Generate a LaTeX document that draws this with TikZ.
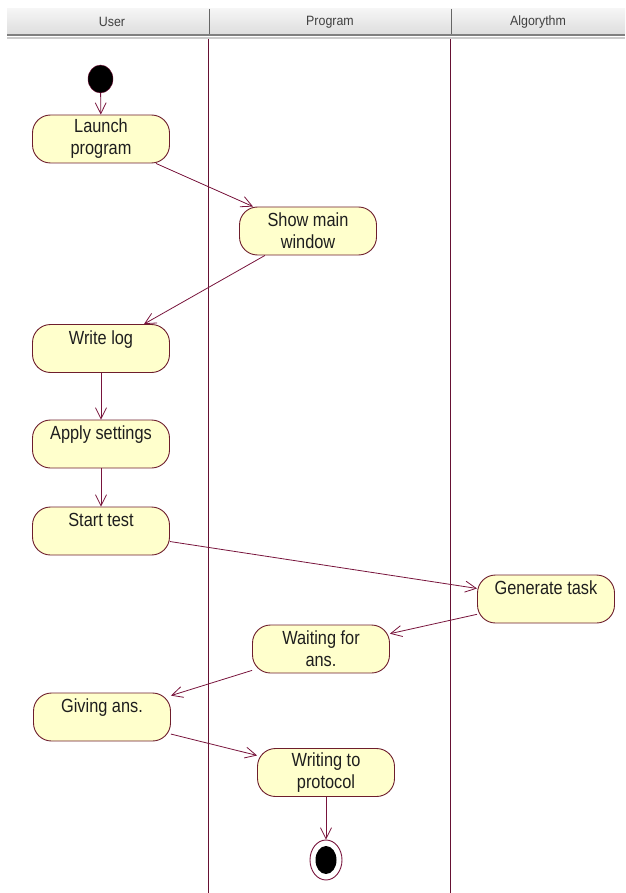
\documentclass[tikz,border=0pt]{standalone}
\usepackage{fontspec}
\usetikzlibrary{arrows.meta,shapes.geometric}
\newfontfamily\nodefont{Liberation Sans}[FakeStretch=0.86]
\newfontfamily\hdrfont{Liberation Sans}[FakeStretch=0.92]
\definecolor{umlline}{RGB}{120,20,60}
\definecolor{umlborder}{RGB}{110,30,45}
\definecolor{umlfill}{RGB}{255,255,204}
\definecolor{umltext}{RGB}{30,30,30}
\definecolor{hdrtop}{RGB}{245,245,245}
\definecolor{hdrbot}{RGB}{222,222,222}
\begin{document}
\begin{tikzpicture}[x=1pt,y=-1pt,
  activity/.style={draw=umlborder, fill=umlfill, line width=0.9pt, rounded corners=18pt,
    minimum width=137pt, minimum height=48pt, inner sep=0pt, align=center,
    font=\nodefont\fontsize{19}{22}\selectfont, text=umltext},
  flow/.style={draw=umlline, line width=0.8pt, -{Straight Barb[length=11pt,width=11pt]}},
  lane/.style={draw=umlline!85!black, line width=0.8pt},
  hdr/.style={font=\hdrfont\fontsize{13.5}{15}\selectfont, text=black!75}]
\useasboundingbox (0,0) rectangle (625,893);
% header
\shade[top color=hdrtop, bottom color=hdrbot] (7,9) rectangle (625,34);
\draw[black!50, line width=2pt] (7,35.5) -- (625,35.5);
\draw[black!20, line width=2pt] (7,38) -- (625,38);
\draw[black!60, line width=0.8pt] (209,9) -- (209,34);
\draw[black!60, line width=0.8pt] (451,9) -- (451,34);
\node[hdr] (huser) at (112,22) {User};
\node[hdr] (hprog) at (330,22) {Program};
\node[hdr] (halgo) at (538,22) {Algorythm};
% lanes
\draw[lane] (208,39) -- (208,893);
\draw[lane] (450,39) -- (450,893);
% nodes
\node[ellipse, fill=black, draw=umlline, minimum width=25pt, minimum height=28pt, inner sep=0pt] (init) at (100.5,79) {};
\node[activity] (launch) at (101,139) {Launch\\program};
\node[activity] (show) at (308,231) {Show main\\window};
\node[activity] (wlog) at (101,348.5) {Write log\\~};
\node[activity] (apply) at (101,444) {Apply settings\\~};
\node[activity] (start) at (101,531) {Start test\\~};
\node[activity] (gen) at (546,599) {Generate task\\~};
\node[activity] (wait) at (321,649) {Waiting for\\ans.};
\node[activity] (give) at (102,717) {Giving ans.\\~};
\node[activity] (proto) at (326,772.5) {Writing to\\protocol};
\node[ellipse, draw=umlline, line width=0.9pt, minimum width=32pt, minimum height=40pt, inner sep=0pt] (final) at (326,860) {};
\node[ellipse, fill=black, minimum width=21pt, minimum height=28pt, inner sep=0pt] (finalin) at (326,860) {};
% flows
\draw[flow] (init) -- (launch);
\draw[flow] (launch) -- (show);
\draw[flow] (show) -- (wlog);
\draw[flow] (wlog) -- (apply);
\draw[flow] (apply) -- (start);
\draw[flow] (start) -- (gen);
\draw[flow] (gen) -- (wait);
\draw[flow] (wait) -- (give);
\draw[flow] (give) -- (proto);
\draw[flow] (proto) -- (final);
\end{tikzpicture}
\end{document}
